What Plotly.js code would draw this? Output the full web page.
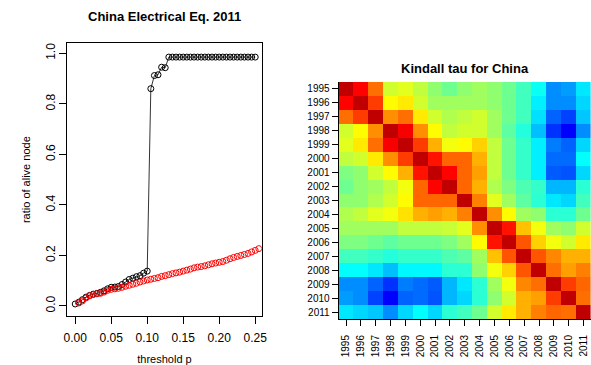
<!DOCTYPE html>
<html>
<head>
<meta charset="utf-8">
<script src="https://cdn.plot.ly/plotly-3.0.1.min.js"></script>
<style>html,body{margin:0;padding:0;background:#fff;}#chart{width:591px;height:365px;}</style>
</head>
<body>
<div id="chart"></div>
<script>
// ---- left panel data ----
const blackX = [0,0.005,0.01,0.015,0.02,0.025,0.03,0.035,0.04,0.045,0.05,0.055,0.06,0.065,0.07,0.075,0.08,0.085,0.09,0.095,0.1,
  0.105,0.11,0.115,0.12,0.125,0.13,0.135,0.14,0.145,0.15,0.155,0.16,0.165,0.17,0.175,0.18,0.185,0.19,0.195,0.2,0.205,0.21,0.215,0.22,0.225,0.23,0.235,0.24,0.245,0.25];
const blackY = [0.008,0.015,0.025,0.035,0.042,0.047,0.05,0.054,0.06,0.068,0.074,0.075,0.077,0.085,0.095,0.105,0.11,0.116,0.12,0.13,0.138,
  0.86,0.912,0.915,0.945,0.943,0.985,0.985,0.985,0.985,0.985,0.985,0.985,0.985,0.985,0.985,0.985,0.985,0.985,0.985,0.985,0.985,0.985,0.985,0.985,0.985,0.985,0.985,0.985,0.985,0.985];
const redX = [0.005,0.01,0.015,0.02,0.025,0.03,0.035,0.04,0.045,0.05,0.055,0.06,0.065,0.07,0.075,0.08,0.085,0.09,0.095,0.1,
  0.105,0.11,0.115,0.12,0.125,0.13,0.135,0.14,0.145,0.15,0.155,0.16,0.165,0.17,0.175,0.18,0.185,0.19,0.195,0.2,
  0.205,0.21,0.215,0.22,0.225,0.23,0.235,0.24,0.245,0.25,0.255];
const redY = [0.012,0.02,0.032,0.04,0.045,0.048,0.05,0.055,0.062,0.066,0.068,0.07,0.074,0.078,0.082,0.086,0.09,0.095,0.099,0.103,
  0.106,0.109,0.112,0.117,0.12,0.124,0.128,0.131,0.134,0.138,0.142,0.146,0.151,0.154,0.156,0.159,0.163,0.167,0.17,0.173,
  0.176,0.181,0.187,0.192,0.196,0.2,0.204,0.208,0.214,0.22,0.227];
const xTicks = [0,0.05,0.1,0.15,0.2,0.25];
const xTickText = ["0.00","0.05","0.10","0.15","0.20","0.25"];
const yTicks = [0,0.2,0.4,0.6,0.8,1.0];
const yTickText = ["0.0","0.2","0.4","0.6","0.8","1.0"];

// ---- right panel data (colour level, 0 = blue ... 1 = dark red) ----
const years = ["1995","1996","1997","1998","1999","2000","2001","2002","2003","2004","2005","2006","2007","2008","2009","2010","2011"];
const tau = [
 [1,.92,.79,.56,.58,.54,.48,.44,.48,.5,.48,.44,.385,.32,.17,.19,.28],
 [.92,1,.85,.62,.64,.56,.5,.5,.5,.5,.48,.44,.385,.29,.17,.17,.26],
 [.79,.85,1,.75,.79,.64,.56,.52,.54,.56,.5,.44,.385,.27,.12,.08,.24],
 [.56,.62,.75,1,.93,.75,.62,.54,.56,.56,.5,.42,.35,.23,.06,0,.17],
 [.58,.64,.79,.93,1,.85,.71,.6,.62,.67,.54,.44,.37,.29,.15,.12,.26],
 [.54,.56,.64,.75,.85,1,.9,.8,.8,.71,.54,.44,.37,.29,.13,.13,.31],
 [.46,.48,.56,.62,.71,.9,1,.92,.8,.73,.54,.44,.37,.29,.11,.1,.26],
 [.44,.48,.5,.54,.6,.8,.92,1,.8,.71,.52,.46,.4,.37,.22,.22,.36],
 [.48,.48,.52,.56,.62,.8,.8,.8,1,.77,.58,.5,.42,.36,.28,.26,.385],
 [.52,.54,.58,.6,.65,.71,.73,.71,.77,1,.75,.62,.5,.48,.36,.36,.44],
 [.5,.5,.5,.5,.54,.54,.54,.55,.58,.75,1,.9,.69,.6,.5,.48,.56],
 [.46,.46,.44,.42,.44,.44,.44,.46,.5,.62,.9,1,.82,.67,.6,.56,.64],
 [.385,.385,.37,.35,.37,.37,.37,.4,.42,.5,.69,.82,1,.82,.76,.71,.71],
 [.31,.31,.28,.23,.3,.3,.3,.36,.36,.48,.6,.67,.82,1,.79,.73,.77],
 [.17,.17,.12,.06,.15,.13,.11,.22,.28,.36,.5,.6,.76,.79,1,.85,.8],
 [.19,.17,.08,0,.12,.13,.1,.22,.26,.36,.48,.56,.71,.73,.85,1,.79],
 [.28,.26,.24,.17,.26,.31,.26,.36,.385,.44,.56,.64,.71,.77,.8,.79,1]
];

const W = 591, H = 365;
const px = v => v / W, py = v => 1 - v / H;
const FONT = "Liberation Sans, Arial, Helvetica, sans-serif";

const traces = [
  {x: blackX, y: blackY, type: 'scatter', mode: 'lines+markers', xaxis: 'x', yaxis: 'y',
   line: {color: '#333333', width: 1},
   marker: {symbol: 'circle-open', size: 6, color: '#000000', line: {width: 1, color: '#000000'}},
   hoverinfo: 'skip', showlegend: false},
  {x: redX, y: redY, type: 'scatter', mode: 'markers', xaxis: 'x', yaxis: 'y',
   marker: {symbol: 'circle-open', size: 6, color: '#FF0000', line: {width: 1, color: '#FF0000'}},
   hoverinfo: 'skip', showlegend: false},
  {z: tau, x: years, y: years, type: 'heatmap', xaxis: 'x2', yaxis: 'y2',
   zmin: 0, zmax: 1, showscale: false, hoverinfo: 'skip',
   colorscale: [[0,'#0000FF'],[0.3077,'#00FFFF'],[0.615,'#FFFF00'],[0.923,'#FF0000'],[1,'#C00000']]}
];

const layout = {
  width: W, height: H,
  margin: {l: 0, r: 0, t: 0, b: 0},
  paper_bgcolor: '#ffffff', plot_bgcolor: '#ffffff',
  font: {family: FONT, color: '#000000'},
  showlegend: false,
  xaxis: {
    domain: [px(67.3), px(261.7)], anchor: 'y',
    range: [-0.011, 0.259], showgrid: false, zeroline: false,
    showline: true, mirror: true, linecolor: '#000', linewidth: 1,
    ticks: 'outside', ticklen: 7, tickcolor: '#000',
    tickvals: xTicks, ticktext: xTickText, tickfont: {size: 12, color: '#000'},
    ticklabelstandoff: 4,
    title: {text: 'threshold p', font: {size: 11}, standoff: 16}
  },
  yaxis: {
    domain: [py(316), py(43.3)], anchor: 'x',
    range: [-0.0396, 1.0396], showgrid: false, zeroline: false,
    showline: true, mirror: true, linecolor: '#000', linewidth: 1,
    ticks: 'outside', ticklen: 7, tickcolor: '#000',
    tickvals: yTicks, ticktext: yTickText, tickfont: {size: 12, color: '#000'},
    tickangle: -90,
    title: {text: 'ratio of alive node', font: {size: 11}, standoff: 10}
  },
  xaxis2: {
    domain: [px(338.6), 1], anchor: 'y2', type: 'category',
    showgrid: false, zeroline: false, showline: true, linecolor: '#000', linewidth: 1,
    ticks: 'outside', ticklen: 6, tickcolor: '#000', ticklabelstandoff: 5,
    tickangle: -90, tickfont: {size: 10, color: '#000'}
  },
  yaxis2: {
    domain: [py(319), py(82)], anchor: 'x2', type: 'category', autorange: 'reversed',
    showgrid: false, zeroline: false, showline: true, linecolor: '#000', linewidth: 1,
    ticks: 'outside', ticklen: 6, tickcolor: '#000',
    tickfont: {size: 10, color: '#000'}
  },
  annotations: [
    {text: '<b>China Electrical Eq. 2011</b>', xref: 'paper', yref: 'paper',
     x: px(164.5), y: py(16), xanchor: 'center', yanchor: 'middle', showarrow: false,
     font: {size: 13, family: FONT, color: '#000'}},
    {text: '<b>Kindall tau for China</b>', xref: 'paper', yref: 'paper',
     x: px(465), y: py(68), xanchor: 'center', yanchor: 'middle', showarrow: false,
     font: {size: 13, family: FONT, color: '#000'}}
  ]
};

Plotly.newPlot('chart', traces, layout, {staticPlot: true, displayModeBar: false});
</script>
</body>
</html>
